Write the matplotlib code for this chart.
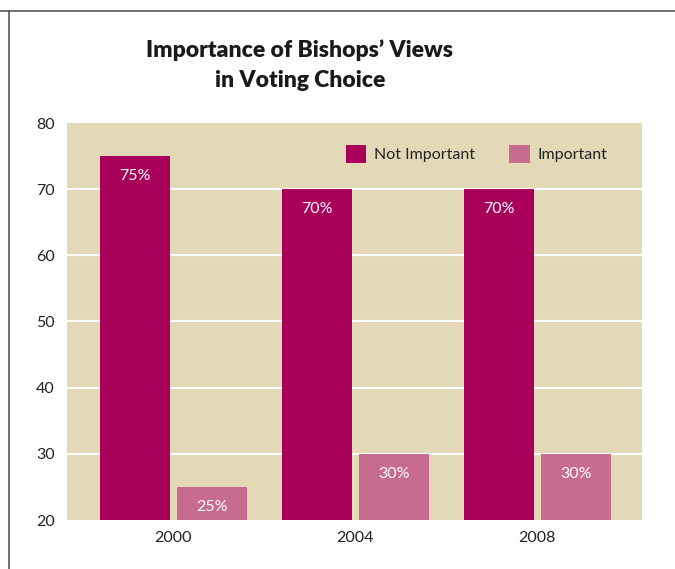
import matplotlib
matplotlib.use('Agg')
import matplotlib.pyplot as plt
from matplotlib.patches import Patch
from matplotlib.lines import Line2D
import numpy as np

plt.rcParams['font.family'] = ['Lato', 'DejaVu Sans']

# 数据
years = ['2000', '2004', '2008']
not_important = [75, 70, 70]
important = [25, 30, 30]
series_names = ['Not Important', 'Important']

DARK = '#A8005A'
LIGHT = '#C76C8E'
BG = '#E3D9B7'

W, H = 675, 569
fig = plt.figure(figsize=(W / 100, H / 100), dpi=100)

# 外框线（上、左）
fig.add_artist(Line2D([0, 1], [1 - 10.5 / H, 1 - 10.5 / H], color='#555555', lw=1.2))
fig.add_artist(Line2D([8.5 / W, 8.5 / W], [0, 1 - 10.5 / H], color='#555555', lw=1.2))

ax = fig.add_axes([67 / W, (H - 520) / H, 575 / W, 397 / H])
ax.set_facecolor(BG)

x = np.arange(len(years))
width = 0.385
offset = 0.21
bars1 = ax.bar(x - offset, np.array(not_important) - 20, width, bottom=20, color=DARK, zorder=3)
bars2 = ax.bar(x + offset, np.array(important) - 20, width, bottom=20, color=LIGHT, zorder=3)

for bars, vals in ((bars1, not_important), (bars2, important)):
    for bar, v in zip(bars, vals):
        ax.annotate(f'{v}%', (bar.get_x() + bar.get_width() / 2, v),
                    xytext=(0, -20), textcoords='offset pixels',
                    ha='center', va='center', color='white', fontsize=11.5, zorder=4)

ax.set_ylim(20, 80)
ax.set_xlim(-0.585, 2.575)
ax.set_yticks(range(20, 81, 10))
ax.set_xticks(x)
ax.set_xticklabels(years)
ax.tick_params(length=0, labelsize=11.5, colors='#222222')
ax.tick_params(axis='y', pad=9)
ax.tick_params(axis='x', pad=8)
for s in ax.spines.values():
    s.set_visible(False)
for yv in range(30, 80, 10):
    ax.axhline(yv, color='white', lw=1.5, zorder=1)

handles = [Patch(facecolor=DARK, edgecolor='none'), Patch(facecolor=LIGHT, edgecolor='none')]
ax.legend(handles, series_names, ncol=2, frameon=False, loc='upper right',
          bbox_to_anchor=(0.965, 0.98), fontsize=11.5, handlelength=1.3, handleheight=1.3,
          columnspacing=2.1, handletextpad=0.5, labelcolor='#222222')

fig.text(300 / W, 1 - 65 / H, "Importance of Bishops’ Views\nin Voting Choice",
         ha='center', va='center', fontsize=16.5, fontweight='heavy', color='#1a1a1a',
         linespacing=1.55)

fig.savefig('out.png', dpi=100)
